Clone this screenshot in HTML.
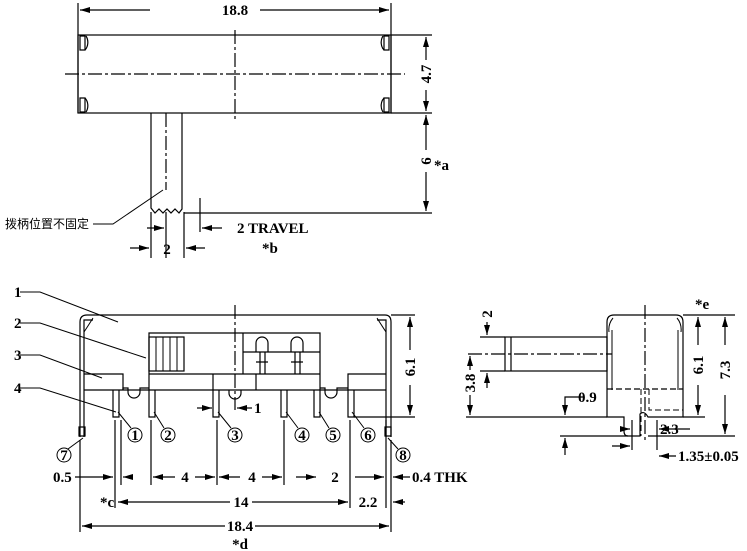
<!DOCTYPE html>
<html><head><meta charset="utf-8"><style>
html,body{margin:0;padding:0;background:#fff;width:747px;height:551px;overflow:hidden}
svg{display:block}
text{font-family:"Liberation Serif","Noto Serif CJK SC",serif;font-size:15px;fill:#000;font-weight:bold}
.c{font-family:"Liberation Sans","Noto Sans CJK SC",sans-serif;font-size:12px;font-weight:normal}
</style></head><body>
<svg width="747" height="551" viewBox="0 0 747 551" xmlns="http://www.w3.org/2000/svg">
<defs><marker id="a" markerWidth="10" markerHeight="6" refX="10" refY="3" orient="auto" markerUnits="userSpaceOnUse"><path d="M0,0 L10,3 L0,6 z" fill="#000"/></marker></defs>
<g stroke="#000" stroke-width="1.2" fill="none">
<!-- TOP VIEW -->
<line x1="78" y1="3" x2="78" y2="113"/><line x1="391" y1="3" x2="391" y2="113"/>
<line x1="150" y1="10" x2="80" y2="10" marker-end="url(#a)"/><line x1="260" y1="10" x2="389" y2="10" marker-end="url(#a)"/>
<rect x="78" y="35" width="313" height="78"/>
<path d="M80,36 h5 v14 h-5 z M80,98 h5 v14 h-5 z M384,36 h5 v14 h-5 z M384,98 h5 v14 h-5 z"/>
<path d="M86,36 a8,10 0 0 1 -1,14 M86,112 a8,10 0 0 0 -1,-14 M383,36 a8,10 0 0 0 1,14 M383,112 a8,10 0 0 1 1,-14"/>
<line x1="65" y1="74" x2="405" y2="74" stroke-dasharray="14,3,3,3"/>
<line x1="235" y1="30" x2="235" y2="120" stroke-dasharray="14,3,3,3"/>
<line x1="391" y1="35" x2="432" y2="35"/><line x1="391" y1="113" x2="432" y2="113"/>
<line x1="184" y1="213" x2="432" y2="213"/>
<line x1="426" y1="60" x2="426" y2="37" marker-end="url(#a)"/><line x1="426" y1="90" x2="426" y2="111" marker-end="url(#a)"/>
<line x1="426" y1="150" x2="426" y2="115" marker-end="url(#a)"/><line x1="426" y1="172" x2="426" y2="211" marker-end="url(#a)"/>
<path d="M151,113 V208 l4,5 4,-4 4,4 4,-4 4,4 4,-4 4,4 3,-4 V113"/>
<line x1="166" y1="113" x2="166" y2="190" stroke-dasharray="14,3,3,3"/>
<line x1="166" y1="212" x2="166" y2="258"/>
<line x1="151" y1="212" x2="151" y2="258"/><line x1="184" y1="212" x2="184" y2="258"/>
<line x1="200" y1="198" x2="200" y2="232"/>
<line x1="222" y1="228" x2="202" y2="228" marker-end="url(#a)"/>
<line x1="147" y1="228" x2="164" y2="228" marker-end="url(#a)"/>
<line x1="130" y1="248" x2="149" y2="248" marker-end="url(#a)"/>
<line x1="205" y1="248" x2="186" y2="248" marker-end="url(#a)"/>
<path d="M93,224 H113 L163,190" stroke-width="1"/>
<!-- FRONT VIEW -->
<path d="M80,437 V322 q0,-7 7,-7 H385 q6,0 6,7 V437"/>
<path d="M84,437 V320 H93 M386,437 V320 H377"/>
<path d="M93,318 q-5,8 -9,14 M377,318 q5,8 9,14" stroke-width="1"/>
<line x1="84" y1="390" x2="386" y2="390"/>
<path d="M84,374 H123 V390 M149,390 V333 H320 V390 M348,390 V374 H386"/>
<path d="M149,374 H320 M213,374 V390 M256,374 V390 M243,333 V374 M243,352 H320"/>
<rect x="149" y="337" width="35" height="34"/>
<path d="M156,337 V371 M163,337 V371 M170,337 V371 M177,337 V371" stroke-width="1"/>
<path d="M256,352 V343 a6,6 0 0 1 12,0 V352 M260,352 V374 M265,352 V374 M291,352 V343 a6,6 0 0 1 12,0 V352 M295,352 V374 M300,352 V374 M256,362 H268 M291,362 H303"/>
<path d="M123,390 V388 H128 V392 a6,6 0 0 0 12,0 V388 H149 M320,388 H325 V392 a6,6 0 0 0 12,0 V388 H348 M229,390 v3 a6,6 0 0 0 12,0 v-3"/>
<line x1="235" y1="305" x2="235" y2="410" stroke-dasharray="14,3,3,3"/>
<path d="M113,390 V417 H119 V390 M149,390 V417 H155 V390 M213,390 V417 H219 V390 M281,390 V417 H287 V390 M314,390 V417 H320 V390 M348,390 V417 H354 V390"/>
<path d="M79,427 h6 v9 h-6 z M385,427 h6 v9 h-6 z"/>
<line x1="197" y1="408" x2="212" y2="408" marker-end="url(#a)"/>
<line x1="252" y1="408" x2="237" y2="408" marker-end="url(#a)"/>
<g stroke-width="1">
<path d="M20,292 H40 L118,322 M20,323 H40 L146,358 M20,355 H40 L102,378 M20,388 H40 L116,412 M118,412 L131,428 M154,412 L164,428 M218,412 L231,428 M286,412 L298,428 M319,412 L329,428 M352,412 L364,428 M83,438 L68,449 M388,438 L398,449"/>
<circle cx="135" cy="435" r="7"/><circle cx="168" cy="435" r="7"/><circle cx="235" cy="435" r="7"/><circle cx="302" cy="435" r="7"/><circle cx="333" cy="435" r="7"/><circle cx="368" cy="435" r="7"/><circle cx="64" cy="455" r="7"/><circle cx="403" cy="455" r="7"/>
</g>
<path d="M80,440 V532 M391,440 V532 M115,420 V508 M121,420 V485 M151,420 V485 M217,420 V485 M284,420 V485 M350,420 V508 M386,420 V508"/>
<line x1="75" y1="477" x2="113" y2="477" marker-end="url(#a)"/><line x1="133" y1="477" x2="123" y2="477" marker-end="url(#a)"/>
<line x1="175" y1="477" x2="153" y2="477" marker-end="url(#a)"/><line x1="195" y1="477" x2="215" y2="477" marker-end="url(#a)"/>
<line x1="240" y1="477" x2="219" y2="477" marker-end="url(#a)"/><line x1="262" y1="477" x2="282" y2="477" marker-end="url(#a)"/>
<line x1="296" y1="477" x2="316" y2="477" marker-end="url(#a)"/><line x1="355" y1="477" x2="384" y2="477" marker-end="url(#a)"/>
<line x1="410" y1="477" x2="393" y2="477" marker-end="url(#a)"/>
<line x1="230" y1="502" x2="118" y2="502" marker-end="url(#a)"/><line x1="252" y1="502" x2="348" y2="502" marker-end="url(#a)"/>
<line x1="405" y1="502" x2="393" y2="502" marker-end="url(#a)"/>
<line x1="225" y1="526" x2="82" y2="526" marker-end="url(#a)"/><line x1="255" y1="526" x2="389" y2="526" marker-end="url(#a)"/>
<line x1="391" y1="315" x2="415" y2="315"/><line x1="354" y1="417" x2="415" y2="417"/>
<line x1="410" y1="350" x2="410" y2="317" marker-end="url(#a)"/><line x1="410" y1="385" x2="410" y2="415" marker-end="url(#a)"/>
<!-- SIDE VIEW -->
<path d="M607,322 q0,-7 7,-7 H676 q7,0 7,7 V417 H648 q-4,-7 -8,-3 V436 H628 q-4,0 -4,-5 V417 H607 z"/>
<path d="M612,390 V330 M678,390 V330 M613,318 q-5,6 -4,14 M677,318 q5,6 4,14" stroke-width="1"/>
<line x1="607" y1="389" x2="683" y2="389" stroke-dasharray="6,3"/>
<path d="M641,389 V436 M649,389 V410 H683" stroke-dasharray="6,3" stroke-width="1"/>
<line x1="645" y1="305" x2="645" y2="440" stroke-dasharray="14,3,3,3"/>
<rect x="505" y="337" width="102" height="34"/><line x1="511" y1="337" x2="511" y2="371"/>
<line x1="468" y1="354" x2="612" y2="354" stroke-dasharray="14,3,3,3"/>
<path d="M480,337 H505 M480,371 H505 M466,417 H607 M560,436 H628 M683,315 H735 M683,417 H705 M648,436 H735"/>
<line x1="487" y1="322" x2="487" y2="335" marker-end="url(#a)"/><line x1="487" y1="388" x2="487" y2="373" marker-end="url(#a)"/>
<line x1="470" y1="370" x2="470" y2="356" marker-end="url(#a)"/><line x1="470" y1="395" x2="470" y2="415" marker-end="url(#a)"/>
<path d="M583,397 H565 V415" marker-end="url(#a)"/><line x1="565" y1="455" x2="565" y2="438" marker-end="url(#a)"/>
<line x1="698" y1="345" x2="698" y2="317" marker-end="url(#a)"/><line x1="698" y1="385" x2="698" y2="415" marker-end="url(#a)"/>
<line x1="725" y1="345" x2="725" y2="317" marker-end="url(#a)"/><line x1="725" y1="395" x2="725" y2="434" marker-end="url(#a)"/>
<line x1="632" y1="420" x2="632" y2="450"/><line x1="657" y1="420" x2="657" y2="450"/>
<line x1="620" y1="429" x2="630" y2="429" marker-end="url(#a)"/><line x1="690" y1="429" x2="659" y2="429" marker-end="url(#a)"/>
<line x1="612" y1="446" x2="630" y2="446" marker-end="url(#a)"/><line x1="676" y1="456" x2="659" y2="456" marker-end="url(#a)"/>
</g>
<text x="235" y="15" text-anchor="middle">18.8</text>
<text transform="translate(431,74) rotate(-90)" text-anchor="middle">4.7</text>
<text transform="translate(431,161) rotate(-90)" text-anchor="middle">6</text>
<text x="434" y="170">*a</text>
<text x="237" y="233">2 TRAVEL</text>
<text x="262" y="253">*b</text>
<text x="167" y="254" text-anchor="middle">2</text>
<text class="c" x="5" y="228">拨柄位置不固定</text>
<text x="14" y="297">1</text><text x="14" y="328">2</text><text x="14" y="360">3</text><text x="14" y="393">4</text>
<text x="254" y="413">1</text>
<g style="font-size:12px"><text x="135" y="440" text-anchor="middle">1</text><text x="168" y="440" text-anchor="middle">2</text><text x="235" y="440" text-anchor="middle">3</text><text x="302" y="440" text-anchor="middle">4</text><text x="333" y="440" text-anchor="middle">5</text><text x="368" y="440" text-anchor="middle">6</text><text x="64" y="460" text-anchor="middle">7</text><text x="403" y="460" text-anchor="middle">8</text></g>
<text transform="translate(415,367) rotate(-90)" text-anchor="middle">6.1</text>
<text x="53" y="482">0.5</text><text x="185" y="482" text-anchor="middle">4</text><text x="252" y="482" text-anchor="middle">4</text><text x="335" y="482" text-anchor="middle">2</text><text x="412" y="482">0.4 THK</text>
<text x="100" y="507">*c</text><text x="241" y="507" text-anchor="middle">14</text><text x="368" y="507" text-anchor="middle">2.2</text>
<text x="240" y="531" text-anchor="middle">18.4</text><text x="240" y="549" text-anchor="middle">*d</text>
<text transform="translate(492,314) rotate(-90)" text-anchor="middle">2</text>
<text transform="translate(475,383) rotate(-90)" text-anchor="middle">3.8</text>
<text x="578" y="402">0.9</text>
<text transform="translate(703,365) rotate(-90)" text-anchor="middle">6.1</text>
<text transform="translate(730,370) rotate(-90)" text-anchor="middle">7.3</text>
<text x="695" y="309">*e</text>
<text x="660" y="434">2.3</text>
<text x="678" y="461">1.35±0.05</text>
</svg>
</body></html>
